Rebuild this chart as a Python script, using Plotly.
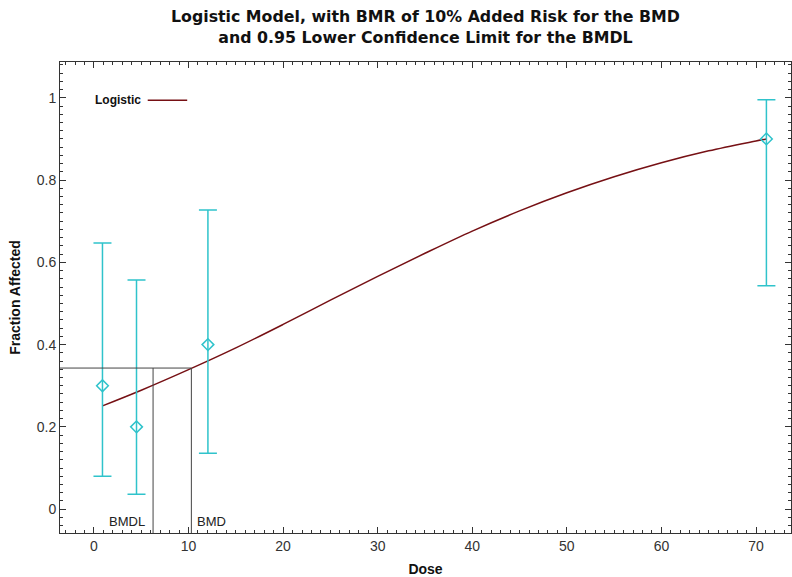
import plotly.graph_objects as go

# Observed data
dose = [0.9, 4.5, 12.05, 71.1]
frac = [0.30, 0.20, 0.40, 0.90]
err_upper = [0.647, 0.557, 0.727, 0.995]
err_lower = [0.080, 0.036, 0.136, 0.543]

# Fitted logistic curve
curve_dose = [0.9, 5, 10, 15, 20, 25, 30, 35, 40, 45, 50, 55, 60, 65, 70, 71.1]
curve_frac = [0.251, 0.289, 0.339, 0.392, 0.449, 0.508, 0.566, 0.622, 0.676,
              0.725, 0.769, 0.808, 0.842, 0.871, 0.895, 0.900]

# Benchmark values
bmr_level = 0.343
bmd = 10.3
bmdl = 6.25

x_range = [-3.59, 73.7]
y_range = [-0.058, 1.087]

cyan = "#2FC3CB"
red = "#761014"
line_col = "#444444"
font_narrow = "Liberation Sans Narrow, Arial Narrow, Liberation Sans, sans-serif"

fig = go.Figure()

fig.add_trace(go.Scatter(
    x=curve_dose, y=curve_frac, mode="lines", line=dict(color=red, width=1.5, shape="spline"),
    name="Logistic", showlegend=False, hoverinfo="skip"))

fig.add_trace(go.Scatter(
    x=dose, y=frac, mode="markers",
    marker=dict(symbol="diamond-open", size=9, color=cyan, line=dict(width=1.5, color=cyan)),
    error_y=dict(type="data", symmetric=False,
                 array=[u - f for u, f in zip(err_upper, frac)],
                 arrayminus=[f - l for f, l in zip(frac, err_lower)],
                 color=cyan, thickness=1.5, width=9),
    showlegend=False))

# BMD / BMDL guide lines
fig.add_trace(go.Scatter(x=[x_range[0], bmd], y=[bmr_level, bmr_level], mode="lines",
                         line=dict(color=line_col, width=1), showlegend=False, hoverinfo="skip"))
fig.add_trace(go.Scatter(x=[bmdl, bmdl], y=[y_range[0], bmr_level], mode="lines",
                         line=dict(color=line_col, width=1), showlegend=False, hoverinfo="skip"))
fig.add_trace(go.Scatter(x=[bmd, bmd], y=[y_range[0], bmr_level], mode="lines",
                         line=dict(color=line_col, width=1), showlegend=False, hoverinfo="skip"))

fig.add_annotation(x=bmdl, y=-0.03, xref="x", yref="y", text="BMDL", showarrow=False,
                   xanchor="right", xshift=-6, font=dict(family=font_narrow, size=13, color="#222"))
fig.add_annotation(x=bmd, y=-0.03, xref="x", yref="y", text="BMD", showarrow=False,
                   xanchor="left", xshift=4, font=dict(family=font_narrow, size=13, color="#222"))

# Legend (text then line sample)
fig.add_annotation(x=0.045, y=0.919, xref="paper", yref="paper", text="<b>Logistic</b>",
                   showarrow=False, xanchor="left", yanchor="middle",
                   font=dict(family=font_narrow, size=12, color="#111"))
fig.add_shape(type="line", xref="paper", yref="paper", x0=0.120, x1=0.174, y0=0.919, y1=0.919,
              line=dict(color=red, width=1.5))

# Title
fig.add_annotation(x=0.5, y=1, xref="paper", yref="paper", yanchor="bottom", yshift=13,
                   text="<b>Logistic Model, with BMR of 10% Added Risk for the BMD<br>and 0.95 Lower Confidence Limit for the BMDL</b>",
                   showarrow=False, align="center",
                   font=dict(family="DejaVu Sans, Liberation Sans, sans-serif", size=15.8, color="#111"))

axis_common = dict(showline=True, linecolor="#333", linewidth=1, mirror="allticks",
                   ticks="inside", tickcolor="#333", showgrid=False, zeroline=False,
                   automargin=False,
                   tickfont=dict(family=font_narrow, size=14, color="#333"))

fig.update_xaxes(range=x_range, tick0=0, dtick=10, ticklen=6,
                 minor=dict(ticks="inside", dtick=1, ticklen=3, tickcolor="#333"),
                 title=dict(text="<b>Dose</b>", font=dict(family=font_narrow, size=14, color="#111"), standoff=13),
                 **axis_common)
fig.update_yaxes(range=y_range, tick0=0, dtick=0.2, ticklen=6,
                 minor=dict(ticks="inside", dtick=0.02, ticklen=3, tickcolor="#333"),
                 title=dict(text="<b>Fraction Affected</b>", font=dict(family=font_narrow, size=14, color="#111"), standoff=12),
                 **axis_common)

fig.update_layout(
    width=792, height=577,
    margin=dict(l=60, r=1, t=62, b=44, autoexpand=False),
    plot_bgcolor="white", paper_bgcolor="white",
    showlegend=False,
)

fig.write_html("out.html", config={"displayModeBar": False},
               post_script="document.body.style.margin='0px';document.body.style.overflow='hidden';")
